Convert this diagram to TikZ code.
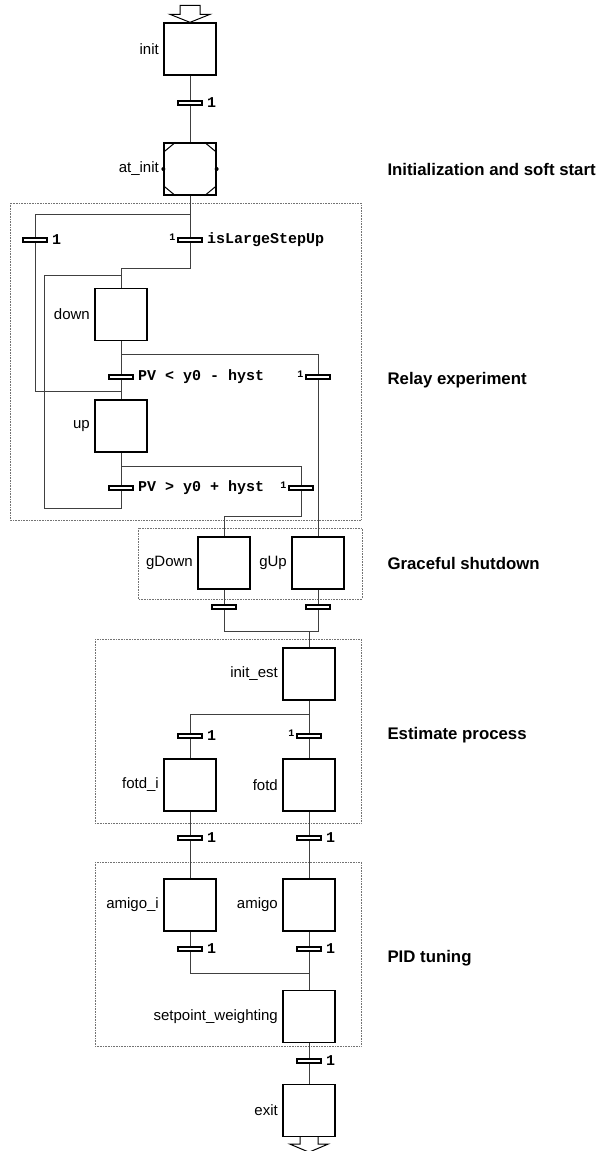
\documentclass[tikz,border=0pt]{standalone}
\usepackage{fontspec}
\setmainfont{Liberation Sans}
\setmonofont{Liberation Mono}

\begin{document}
\begin{tikzpicture}[x=1pt, y=-1pt,
    stepbox/.style={draw, line width=1.3pt, minimum size=52pt, inner sep=0pt},
    trans/.style={draw, fill=white, line width=1.1pt, minimum width=24pt,
      minimum height=4pt, inner sep=0pt},
    steplbl/.style={font=\fontsize{15}{18}\selectfont, label distance=1pt},
    cond/.style={font=\ttfamily\bfseries\fontsize{15}{18}\selectfont, label distance=1pt},
    small/.style={font=\ttfamily\bfseries\fontsize{10}{12}\selectfont, yshift=3pt,
      inner sep=2pt},
    link/.style={line width=0.7pt, black!75},
    group/.style={densely dotted, black!55, line width=0.6pt},
    title/.style={anchor=west, font=\bfseries\fontsize{16.8}{20}\selectfont},
    bigarrow/.style={line width=1pt, fill=white, line join=miter}]
    % page size
    \useasboundingbox (0,0) rectangle (598,1151);

    % groups
    \draw[group] (10,203) rectangle (361,520);
    \draw[group] (138,528) rectangle (362,599);
    \draw[group] (95,639) rectangle (361,823);
    \draw[group] (95,862) rectangle (361,1046);

    % initialization
    \node[stepbox, label={[steplbl]left:init}] (init) at (190,49) {};
    \node[trans, label={[cond]right:1}] (t0) at (190,103) {};
    \node[stepbox, label={[steplbl]left:at\_init}] (atinit) at (190,169) {};

    % relay
    \node[trans, label={[cond]right:1}] (tL) at (35,240) {};
    \node[trans, label={[cond]right:isLargeStepUp}, label={[small]left:1}] (tLS) at (190,240) {};
    \node[stepbox, label={[steplbl]left:down}] (down) at (121,314.5) {};
    \node[trans, label={[cond]right:PV < y0 - hyst}] (tPVlt) at (121,377) {};
    \node[trans, label={[small]left:1}] (tR1) at (318,377) {};
    \node[stepbox, label={[steplbl]left:up}] (up) at (121,426) {};
    \node[trans, label={[cond]right:PV > y0 + hyst}] (tPVgt) at (121,488) {};
    \node[trans, label={[small]left:1}] (tR2) at (301,488) {};

    % shutdown
    \node[stepbox, label={[steplbl]left:gDown}] (gDown) at (224,563) {};
    \node[stepbox, label={[steplbl]left:gUp}] (gUp) at (318,563) {};
    \node[trans] (tgD) at (224,607) {};
    \node[trans] (tgU) at (318,607) {};

    % estimation
    \node[stepbox, label={[steplbl]left:init\_est}] (initest) at (309,674) {};
    \node[trans, label={[cond]right:1}] (tfi) at (190,736) {};
    \node[trans, label={[small]left:1}] (tf) at (309,736) {};
    \node[stepbox, label={[steplbl]left:fotd\_i}] (fotdi) at (190,785) {};
    \node[stepbox, label={[steplbl]left:fotd}] (fotd) at (309,785) {};
    \node[trans, label={[cond]right:1}] (tai) at (190,838) {};
    \node[trans, label={[cond]right:1}] (ta) at (309,838) {};

    % tuning
    \node[stepbox, label={[steplbl]left:amigo\_i}] (amigoi) at (190,905) {};
    \node[stepbox, label={[steplbl]left:amigo}] (amigo) at (309,905) {};
    \node[trans, label={[cond]right:1}] (tsi) at (190,949) {};
    \node[trans, label={[cond]right:1}] (ts) at (309,949) {};
    \node[stepbox, label={[steplbl]left:setpoint\_weighting}] (sw) at (309,1016.5) {};
    \node[trans, label={[cond]right:1}] (tex) at (309,1061) {};
    \node[stepbox, label={[steplbl]left:exit}] (exit) at (309,1110.5) {};

    % junctions
    \coordinate (j1) at (190,214);
    \coordinate (j2) at (190,268);
    \coordinate (j4) at (121,391);
    \coordinate (j5) at (121,508);
    \coordinate (j6) at (44,275);
    \coordinate (j7) at (121,275);
    \coordinate (j8) at (121,354);
    \coordinate (j9) at (121,466);
    \coordinate (j10) at (301,516);
    \coordinate (j11) at (318,631);
    \coordinate (j12) at (309,631);
    \coordinate (j13) at (309,714);
    \coordinate (j14) at (309,973);

    % links
    \draw[link] (init) -- (t0);
    \draw[link] (t0) -- (atinit);
    \draw[link] (atinit) -- (j1) -| (tL);
    \draw[link] (j1) -- (tLS);
    \draw[link] (tLS) -- (j2) -| (down);
    \draw[link] (tL) |- (j4);
    \draw[link] (down) -- (tPVlt);
    \draw[link] (j8) -| (tR1);
    \draw[link] (tPVlt) -- (up);
    \draw[link] (up) -- (tPVgt);
    \draw[link] (j9) -| (tR2);
    \draw[link] (tPVgt) -- (j5) -| (j6) -- (j7);
    \draw[link] (tR1) -- (gUp);
    \draw[link] (tR2) -- (j10) -| (gDown);
    \draw[link] (gDown) -- (tgD);
    \draw[link] (gUp) -- (tgU);
    \draw[link] (tgD) |- (j11) -- (tgU);
    \draw[link] (j12) -- (initest);
    \draw[link] (initest) -- (tf);
    \draw[link] (j13) -| (tfi);
    \draw[link] (tfi) -- (fotdi);
    \draw[link] (tf) -- (fotd);
    \draw[link] (fotdi) -- (tai);
    \draw[link] (fotd) -- (ta);
    \draw[link] (tai) -- (amigoi);
    \draw[link] (ta) -- (amigo);
    \draw[link] (amigoi) -- (tsi);
    \draw[link] (amigo) -- (ts);
    \draw[link] (tsi) |- (j14);
    \draw[link] (ts) -- (sw);
    \draw[link] (sw) -- (tex);
    \draw[link] (tex) -- (exit);

    % at_init marks
    \draw[line width=1pt] (atinit.north west) ++(0,10) -- ++(12,-10);
    \draw[line width=1pt] (atinit.north east) ++(0,10) -- ++(-12,-10);
    \draw[line width=1pt] (atinit.south west) ++(0,-10) -- ++(12,10);
    \draw[line width=1pt] (atinit.south east) ++(0,-10) -- ++(-12,10);
    \fill (atinit.west) circle (2);
    \fill (atinit.east) circle (2);

    % entry and exit arrows
    \draw[bigarrow, shift={(init.north)}] (-10,-17) -- (-10,-8) -- (-20,-8) -- (0,0)
      -- (20,-8) -- (10,-8) -- (10,-17) -- cycle;
    \draw[bigarrow, shift={(exit.south)}] (-9,0) -- (-9,7) -- (-19,7) -- (0,15)
      -- (19,7) -- (9,7) -- (9,0);

    % titles
    \node[title] (ttlinit) at (384,169) {Initialization and soft start};
    \node[title] (ttlrelay) at (384,380) {Relay experiment};
    \node[title] (ttlshut) at (384,563) {Graceful shutdown};
    \node[title] (ttlest) at (384,735) {Estimate process};
    \node[title] (ttlpid) at (384,958) {PID tuning};
\end{tikzpicture}
\end{document}
